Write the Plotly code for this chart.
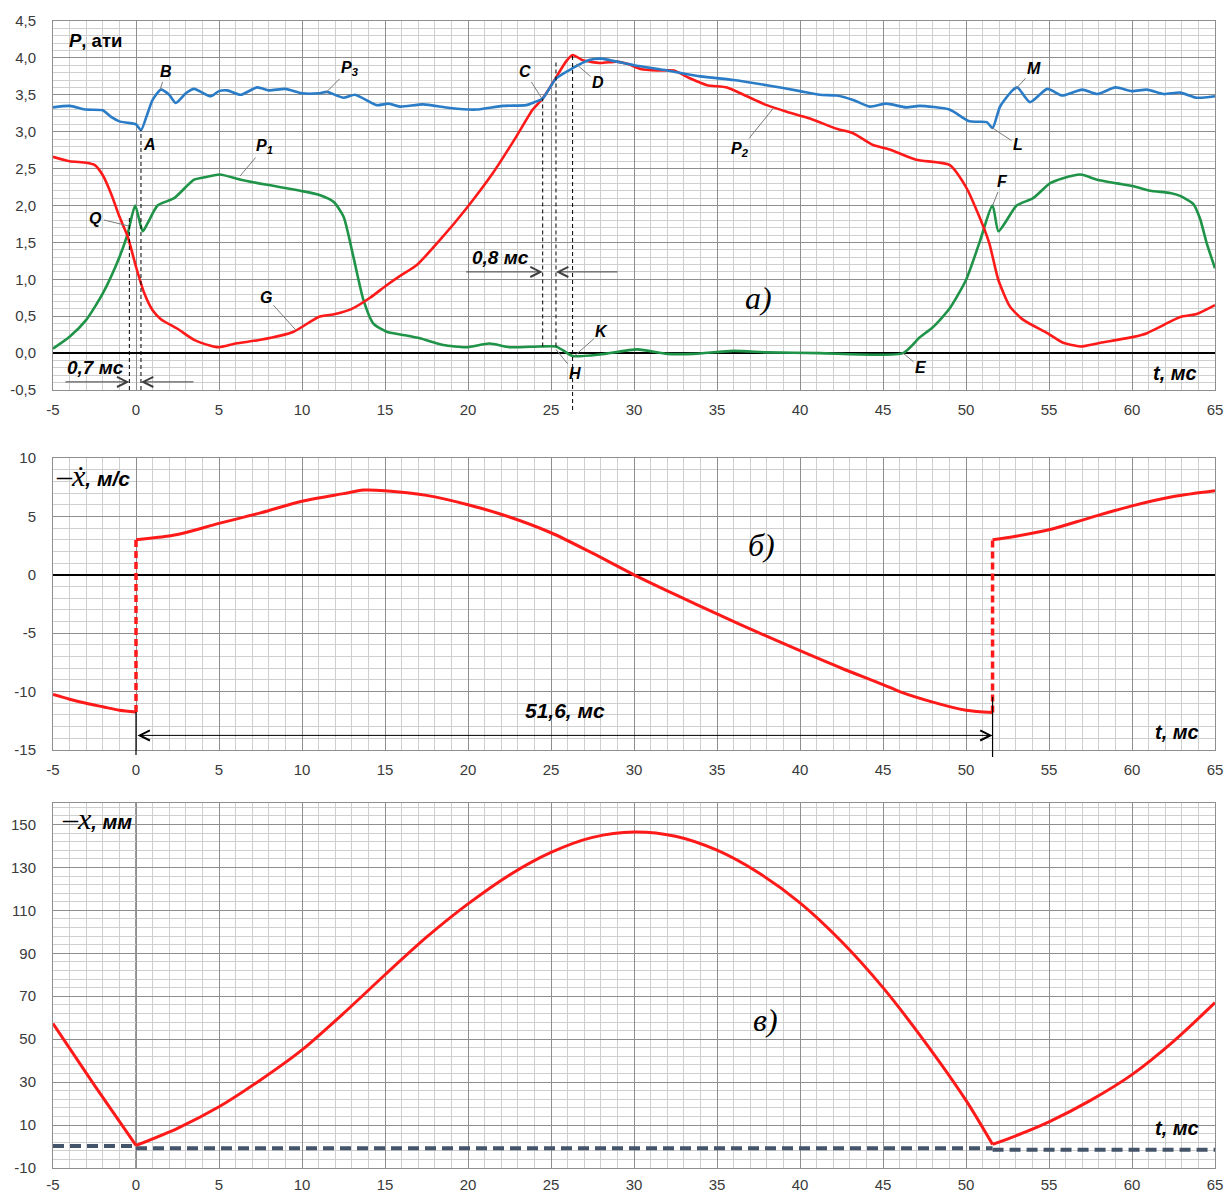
import plotly.graph_objects as go

# ---------------- time axis (ms), common to the three panels ----------------
t_ticks = [-5, 0, 5, 10, 15, 20, 25, 30, 35, 40, 45, 50, 55, 60, 65]
t_labels = ["-5", "0", "5", "10", "15", "20", "25", "30", "35", "40", "45", "50", "55", "60", "65"]

# ---------------- panel а): pressures P1, P2, P3, ати ----------------
p_ticks = [-0.5, 0.0, 0.5, 1.0, 1.5, 2.0, 2.5, 3.0, 3.5, 4.0, 4.5]
p_labels = ["-0,5", "0,0", "0,5", "1,0", "1,5", "2,0", "2,5", "3,0", "3,5", "4,0", "4,5"]

p1_t = [-5, -4, -3, -2, -1, -0.5, -0.05, 0.4, 0.7, 1.3, 2.3, 3.5, 4.3, 5.05, 6.3, 7.9, 9.9,
        11.1, 11.9, 12.5, 13.1, 13.7, 14.3, 15.1, 16, 17.1, 18.5, 19.9, 21.3, 22.5, 24.3,
        25.3, 25.7, 26.3, 27.95, 30.2, 32, 33.6, 36, 38, 41.2, 46.2, 47.2, 48, 49, 50, 50.8,
        51.6, 51.95, 52.45, 53.05, 54.05, 55.05, 55.85, 56.9, 57.9, 59.1, 60.1, 61.1, 62.3,
        62.9, 63.7, 64.1, 64.5, 65]
p1_v = [0.06, 0.22, 0.45, 0.81, 1.3, 1.62, 2.0, 1.65, 1.76, 2.0, 2.1, 2.35, 2.39, 2.42, 2.35,
        2.28, 2.2, 2.14, 2.05, 1.85, 1.3, 0.72, 0.4, 0.29, 0.25, 0.2, 0.11, 0.08, 0.13, 0.08,
        0.09, 0.09, 0.04, -0.04, -0.02, 0.05, -0.01, -0.01, 0.03, 0.01, 0.0, 0.0, 0.21, 0.35,
        0.6, 0.99, 1.49, 2.0, 1.65, 1.8, 2.0, 2.1, 2.3, 2.37, 2.42, 2.35, 2.3, 2.26, 2.2, 2.17,
        2.13, 2.02, 1.82, 1.49, 1.15]

p2_t = [-5, -4, -3, -2.5, -2, -1.5, -1, -0.5, 0, 0.5, 1, 1.5, 2.5, 3.5, 4.5, 5, 6, 7.5, 9.5,
        11, 12, 13, 14.1, 15.1, 16, 16.9, 18.3, 19.9, 21.5, 22.9, 23.9, 24.5, 25.1, 25.9,
        26.3, 26.9, 27.95, 28.95, 29.6, 30.4, 31.4, 32.4, 33.4, 34.4, 35.6, 36.8, 38, 39.2,
        40.6, 42.2, 43.2, 44.4, 45.4, 47, 49, 50, 50.8, 51.4, 51.95, 52.65, 53.45, 54.9,
        55.85, 56.9, 58.1, 60.1, 60.9, 61.9, 62.9, 63.9, 65]
p2_v = [2.66, 2.6, 2.58, 2.55, 2.41, 2.16, 1.85, 1.58, 1.17, 0.81, 0.58, 0.46, 0.33, 0.18,
        0.1, 0.08, 0.13, 0.18, 0.29, 0.49, 0.53, 0.6, 0.75, 0.92, 1.06, 1.19, 1.53, 1.96,
        2.44, 2.93, 3.3, 3.45, 3.66, 3.95, 4.04, 3.97, 3.93, 3.95, 3.92, 3.85, 3.83, 3.83,
        3.72, 3.63, 3.6, 3.48, 3.36, 3.27, 3.18, 3.04, 2.98, 2.82, 2.76, 2.62, 2.55, 2.25,
        1.85, 1.49, 0.99, 0.63, 0.45, 0.27, 0.14, 0.09, 0.14, 0.22, 0.27, 0.38, 0.49, 0.53,
        0.65]

p3_t = [-5, -4, -3, -2, -1.5, -1, -0.5, 0, 0.3, 0.7, 1, 1.5, 2, 2.4, 3, 3.5, 4.5, 5, 5.5,
        6.3, 7.3, 8, 9, 10, 11, 11.5, 12.5, 13.2, 14.5, 15.2, 15.9, 17.3, 18.9, 20.5, 22.1,
        23.5, 24, 24.5, 25.3, 26.3, 27.3, 28, 30, 32, 34, 36, 38, 40, 41.2, 42.2, 43.2, 44.2,
        45.2, 46.4, 47.2, 49, 50.2, 51.25, 51.6, 52.05, 52.8, 53.1, 53.85, 54.9, 55.8, 57,
        57.9, 59, 60, 60.9, 61.9, 62.9, 63.9, 65]
p3_v = [3.33, 3.35, 3.3, 3.29, 3.2, 3.14, 3.12, 3.1, 3.02, 3.25, 3.43, 3.57, 3.5, 3.39, 3.52,
        3.58, 3.48, 3.55, 3.56, 3.5, 3.6, 3.56, 3.58, 3.52, 3.52, 3.54, 3.46, 3.5, 3.36, 3.38,
        3.34, 3.37, 3.32, 3.3, 3.35, 3.36, 3.4, 3.45, 3.72, 3.86, 3.97, 3.99, 3.9, 3.83, 3.75,
        3.7, 3.63, 3.55, 3.5, 3.49, 3.43, 3.34, 3.38, 3.33, 3.35, 3.3, 3.14, 3.13, 3.05, 3.34,
        3.56, 3.6, 3.4, 3.58, 3.49, 3.57, 3.51, 3.6, 3.55, 3.57, 3.51, 3.53, 3.46, 3.48]

# characteristic moments, ms
t_Q, t_A = -0.4, 0.3               # 0,7 мс between them
t_C, t_H, t_D = 24.5, 25.3, 26.3   # 0,8 мс between C and H

# ---------------- panel б): velocity -x', м/с ----------------
vel_ticks = [-15, -10, -5, 0, 5, 10]
vel_labels = ["-15", "-10", "-5", "0", "5", "10"]

vel_pre_t = [-5, -4, -3, -2, -1, 0]
vel_pre_v = [-10.25, -10.65, -11.0, -11.3, -11.6, -11.75]
vel_cyc_t = [0, 2.5, 5, 7.5, 10, 12.5, 13.7, 15, 17.5, 20, 22.5, 25, 27.5, 30, 32.5, 35, 37.5,
             40, 42.5, 45, 46, 48, 50, 51.6]
vel_cyc_v = [3.0, 3.45, 4.4, 5.3, 6.3, 6.95, 7.25, 7.2, 6.8, 6.0, 4.95, 3.6, 1.85, 0.0, -1.7,
             -3.35, -4.95, -6.5, -8.0, -9.4, -10.0, -10.9, -11.6, -11.8]
vel_post_t = [51.6, 53, 55, 57.5, 60, 62.5, 65]
vel_post_v = [3.0, 3.3, 3.85, 4.9, 5.9, 6.7, 7.2]
cycle_ms = 51.6

# ---------------- panel в): displacement -x, мм ----------------
pos_ticks = [-10, 10, 30, 50, 70, 90, 110, 130, 150]
pos_labels = ["-10", "10", "30", "50", "70", "90", "110", "130", "150"]

pos_pre_t = [-5, -2.5, 0]
pos_pre_v = [57.3, 28.5, 0.5]
pos_cyc_t = [0, 2.5, 5, 7.5, 10, 12.5, 15, 17.5, 20, 22.5, 25, 27.5, 30, 32.5, 35, 37.5, 40,
             42.5, 45, 47.5, 50, 51.6]
pos_cyc_v = [0.5, 8.5, 18.5, 31, 45, 62, 80, 97.5, 113, 126.5, 137, 144, 146.5, 144.5, 138,
             127.5, 113.5, 95.5, 74, 49, 21.5, 1.0]
pos_post_t = [51.6, 53, 55, 57.5, 60, 62.5, 65]
pos_post_v = [1.0, 5.0, 11.5, 21.5, 33.5, 49, 67]

base_t = [-5, 0, None, 0, 51.6, None, 51.6, 65]
base_v = [0.2, 0.2, None, -0.8, -0.8, None, -1.5, -1.5]

# ---------------- page geometry (pixels) ----------------
W, H = 1228, 1195


def px_x(p):
    return p / W


def px_y(p):
    return 1 - p / H


RED, BLUE, GREEN = "#FF1A1A", "#2A7CC7", "#1F9348"
MAJOR, MINOR, FRAME = "#8E8E8E", "#CFCFCF", "#8E8E8E"
SANS = "Liberation Sans, Arial, sans-serif"
SERIF = "Liberation Serif, Times New Roman, serif"

X_DOM = [px_x(53), px_x(1215)]
DOM_A = [px_y(390), px_y(21)]
DOM_B = [px_y(750), px_y(458)]
DOM_C = [px_y(1168), px_y(803)]
RNG_A, RNG_B, RNG_C = [-0.5, 4.5], [-15, 10], [-10, 160]


def to_paper(v, dom, rng):
    return dom[0] + (v - rng[0]) / (rng[1] - rng[0]) * (dom[1] - dom[0])


tickfont = dict(family=SANS, size=15, color="#3A3A3A")


def xaxis(anchor, ticklen):
    return dict(domain=X_DOM, anchor=anchor, range=[-5, 65], tickmode="array",
                tickvals=t_ticks, ticktext=t_labels, showgrid=True, gridcolor=MAJOR,
                gridwidth=1, zeroline=False, automargin=False, ticklabeloverflow="allow",
                minor=dict(tickmode="linear", tick0=-5, dtick=1, showgrid=True,
                           gridcolor=MINOR, gridwidth=1.3),
                showline=True, linecolor=FRAME, linewidth=1, mirror=True,
                ticks="outside", ticklen=ticklen, tickcolor="rgba(0,0,0,0)",
                tickfont=tickfont)


def yaxis(anchor, dom, rng, vals, labels, minor_tick0, minor_dtick, zero):
    return dict(domain=dom, anchor=anchor, range=rng, tickmode="array", tickvals=vals,
                ticktext=labels, showgrid=True, gridcolor=MAJOR, gridwidth=1,
                automargin=False, ticklabeloverflow="allow",
                minor=dict(tickmode="linear", tick0=minor_tick0, dtick=minor_dtick,
                           showgrid=True, gridcolor=MINOR, gridwidth=1.3),
                zeroline=zero, zerolinecolor="#000000", zerolinewidth=1.5,
                showline=True, linecolor=FRAME, linewidth=1, mirror=True,
                ticks="outside", ticklen=13, tickcolor="rgba(0,0,0,0)", tickfont=tickfont)


fig = go.Figure()

# panel а)
for tt, vv, col in [(p1_t, p1_v, GREEN), (p2_t, p2_v, RED), (p3_t, p3_v, BLUE)]:
    fig.add_trace(go.Scatter(x=tt, y=vv, mode="lines", xaxis="x", yaxis="y",
                             line=dict(color=col, width=2.6, shape="spline", smoothing=0.6),
                             hoverinfo="skip"))

# panel б)
for tt, vv in [(vel_pre_t, vel_pre_v), (vel_cyc_t, vel_cyc_v), (vel_post_t, vel_post_v)]:
    fig.add_trace(go.Scatter(x=tt, y=vv, mode="lines", xaxis="x2", yaxis="y2",
                             line=dict(color=RED, width=3, shape="spline", smoothing=0.8),
                             hoverinfo="skip"))
for a_t, a_v, b_t, b_v in [(vel_pre_t, vel_pre_v, vel_cyc_t, vel_cyc_v),
                           (vel_cyc_t, vel_cyc_v, vel_post_t, vel_post_v)]:
    fig.add_trace(go.Scatter(x=[a_t[-1], b_t[0]], y=[a_v[-1], b_v[0]], mode="lines",
                             xaxis="x2", yaxis="y2", hoverinfo="skip",
                             line=dict(color=RED, width=3.5, dash="7px,4px")))

# panel в)
fig.add_trace(go.Scatter(x=base_t, y=base_v, mode="lines", xaxis="x3", yaxis="y3",
                         line=dict(color="#44546A", width=4, dash="11px,6px"),
                         hoverinfo="skip"))
for tt, vv in [(pos_pre_t, pos_pre_v), (pos_cyc_t, pos_cyc_v), (pos_post_t, pos_post_v)]:
    fig.add_trace(go.Scatter(x=tt, y=vv, mode="lines", xaxis="x3", yaxis="y3",
                             line=dict(color=RED, width=3, shape="spline", smoothing=0.8),
                             hoverinfo="skip"))

# ---------------- guide lines ----------------
shapes = []
dash_a = [(t_Q, 1.85, -0.5), (t_A, 3.02, -0.5), (t_C, 3.45, 0.09), (t_H, 3.94, 0.09)]
for t0, top, bot in dash_a:
    shapes.append(dict(type="line", xref="x", yref="y", x0=t0, x1=t0, y0=bot, y1=top,
                       line=dict(color="#000000", width=1, dash="4px,3px")))
shapes.append(dict(type="line", xref="x", yref="paper", x0=t_D, x1=t_D,
                   y0=px_y(410), y1=to_paper(4.04, DOM_A, RNG_A),
                   line=dict(color="#000000", width=1, dash="4px,3px")))
# dimension lines of the cycle in panel б)
shapes.append(dict(type="line", xref="x2", yref="paper", x0=0, x1=0,
                   y0=px_y(755), y1=to_paper(vel_pre_v[-1], DOM_B, RNG_B),
                   line=dict(color="#000000", width=1.2)))
shapes.append(dict(type="line", xref="x2", yref="paper", x0=cycle_ms, x1=cycle_ms,
                   y0=px_y(757), y1=to_paper(-10.45, DOM_B, RNG_B),
                   line=dict(color="#000000", width=1.2)))
# value axis of panel в) crossing at t = 0
shapes.append(dict(type="line", xref="x3", yref="y3", x0=0, x1=0, y0=RNG_C[0], y1=RNG_C[1],
                   line=dict(color="#6E6E6E", width=1.4), layer="below"))

# ---------------- annotations ----------------
ann = []


def label(text, x, y, xr="x", yr="y", size=16, family=SANS, xanchor="center", color="#000"):
    ann.append(dict(text=text, x=x, y=y, xref=xr, yref=yr, showarrow=False,
                    xanchor=xanchor, yanchor="middle",
                    font=dict(family=family, size=size, color=color)))


def leader(text, x, y, tx, ty, xr="x", yr="y"):
    ann.append(dict(text=text, x=x, y=y, ax=tx, ay=ty, xref=xr, yref=yr, axref=xr,
                    ayref=yr, showarrow=True, arrowhead=0, arrowwidth=1,
                    arrowcolor="#7A7A7A", standoff=0,
                    font=dict(family=SANS, size=16, color="#000")))


def arrow(x, y, tx, ty, xr="x", yr="y", both=False, color="#404040"):
    a = dict(text="", x=x, y=y, ax=tx, ay=ty, xref=xr, yref=yr, axref=xr, ayref=yr,
             showarrow=True, arrowhead=5, arrowsize=2.0, arrowwidth=1, arrowcolor=color,
             standoff=0)
    if both:
        a.update(arrowside="end+start", startarrowhead=5, startarrowsize=2.0, startstandoff=0)
    ann.append(a)


# panel а)
label("<b><i>P</i>, ати</b>", -4.15, 4.23, size=18.5, xanchor="left")
leader("<b><i>B</i></b>", 1.45, 3.57, 1.8, 3.81)
label("<b><i>A</i></b>", 0.84, 2.82)
leader("<b><i>P<sub>3</sub></i></b>", 11.4, 3.52, 12.9, 3.86)
leader("<b><i>P<sub>1</sub></i></b>", 6.27, 2.40, 7.77, 2.80)
leader("<b><i>Q</i></b>", t_Q, 1.72, -2.41, 1.83)
leader("<b><i>G</i></b>", 9.64, 0.31, 7.83, 0.76)
leader("<b><i>C</i></b>", t_C - 0.05, 3.45, 23.43, 3.81)
leader("<b><i>D</i></b>", 26.5, 3.92, 27.83, 3.66)
leader("<b><i>P<sub>2</sub></i></b>", 38.4, 3.32, 36.4, 2.76)
leader("<b><i>K</i></b>", 26.4, -0.04, 28.07, 0.29)
leader("<b><i>H</i></b>", t_H, 0.05, 26.45, -0.27)
leader("<b><i>L</i></b>", 51.6, 3.05, 53.13, 2.82)
leader("<b><i>M</i></b>", 53.0, 3.58, 54.1, 3.85)
leader("<b><i>F</i></b>", 51.6, 2.0, 52.17, 2.32)
leader("<b><i>E</i></b>", 46.2, 0.0, 47.29, -0.2)
label("<b><i>0,7 мс</i></b>", -2.47, -0.2, size=19)
arrow(t_Q, -0.39, -4.34, -0.39)
arrow(t_A, -0.39, 3.55, -0.39)
label("<b><i>0,8 мс</i></b>", 21.93, 1.29, size=19)
arrow(t_C, 1.1, 19.8, 1.1)
arrow(t_H, 1.1, 29.1, 1.1)
label("<i>а)</i>", 37.5, 0.75, size=32, family=SERIF)
label("<b><i>t, мс</i></b>", 62.6, -0.27, size=20)

# panel б)
label('<span style="font-family:Liberation Serif;font-size:30px">–<i>ẋ</i></span>'
      '<b><i>, м/с</i></b>', -4.95, 8.5, xr="x2", yr="y2", size=21, xanchor="left")
label("<i>б)</i>", 37.7, 2.55, xr="x2", yr="y2", size=32, family=SERIF)
label("<b><i>51,6, мс</i></b>", 25.84, -11.6, xr="x2", yr="y2", size=21)
arrow(cycle_ms, -13.75, 0, -13.75, xr="x2", yr="y2", both=True, color="#000000")
label("<b><i>t, мс</i></b>", 62.7, -13.45, xr="x2", yr="y2", size=20)

# panel в)
label('<span style="font-family:Liberation Serif;font-size:30px">–<i>x</i></span>'
      '<b><i>, мм</i></b>', -4.6, 153.0, xr="x3", yr="y3", size=20, xanchor="left")
label("<i>в)</i>", 37.9, 58.8, xr="x3", yr="y3", size=32, family=SERIF)
label("<b><i>t, мс</i></b>", 62.7, 8.6, xr="x3", yr="y3", size=20)

fig.update_layout(
    template="none",
    width=W, height=H, margin=dict(l=0, r=0, t=0, b=0, autoexpand=False),
    paper_bgcolor="#FFFFFF", plot_bgcolor="#FFFFFF", showlegend=False,
    xaxis=xaxis("y", 6), xaxis2=xaxis("y2", 6), xaxis3=xaxis("y3", 3),
    yaxis=yaxis("x", DOM_A, RNG_A, p_ticks, p_labels, -0.5, 0.1, True),
    yaxis2=yaxis("x2", DOM_B, RNG_B, vel_ticks, vel_labels, -15, 1, True),
    yaxis3=yaxis("x3", DOM_C, RNG_C, pos_ticks, pos_labels, -10, 4, False),
    shapes=shapes, annotations=ann,
)

fig.write_html("out.html")
